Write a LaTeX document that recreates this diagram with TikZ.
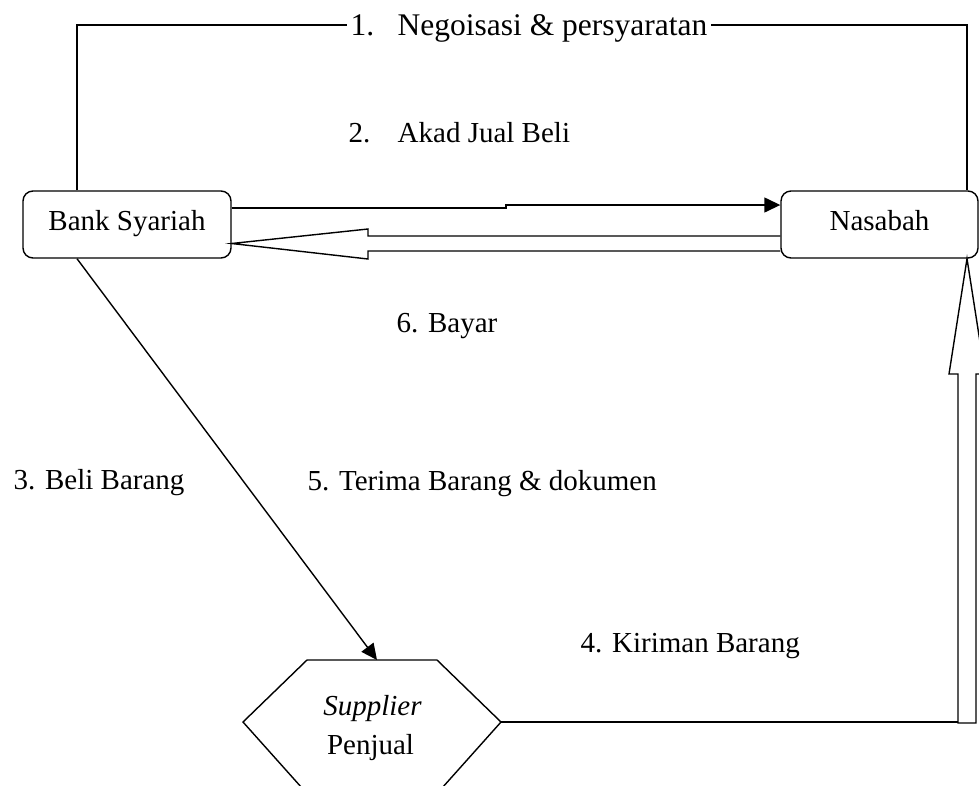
\documentclass[tikz,border=0pt]{standalone}
\usepackage{fontspec}
\setmainfont{Liberation Serif}
\usetikzlibrary{calc,arrows.meta}
\begin{document}
\begin{tikzpicture}[x=1pt,y=-1pt, line width=1.4pt,
  box/.style={draw, rounded corners=10pt, minimum width=208pt, minimum height=67pt, inner sep=0pt, text height=18pt, text depth=7pt, font=\fontsize{29}{35}\selectfont},
  lbl/.style={anchor=base west, inner sep=0pt, font=\fontsize{29}{35}\selectfont},
  tip/.style={-{Triangle[length=16pt,width=15pt]}}
]
\useasboundingbox (0,0) rectangle (979,785);
\clip (0,0) rectangle (979,785);
% boxes
\node[box] (bank) at (127,224.5) {Bank Syariah};
\node[box, minimum width=197pt] (nas) at (879.5,224.5) {Nasabah};
% corner coordinates
\coordinate (tl) at (77,25);
\coordinate (tr) at (967,25);
% label 1 and top connector
\node[lbl, font=\fontsize{31.5}{36}\selectfont] (l1) at (350,35) {\makebox[47pt][l]{1.}Negoisasi \& persyaratan};
\draw (bank.north -| tl) -- (tl) -- ([xshift=-3pt]l1.west |- tl);
\draw ([xshift=3pt]l1.east |- tr) -- (tr) -- (nas.north -| tr);
% label 2
\node[lbl] (l2) at (348,142) {\makebox[49pt][l]{2.}Akad Jual Beli};
% arrow bank -> nasabah
\draw[tip] (bank.east |- 0,208) -- (506,208) -- (506,205) -- (nas.west |- 0,205);
% hollow arrow nasabah -> bank
\draw (nas.west |- 0,236) -- (368,236) -- (368,229) -- (bank.east |- 0,243.5) -- (368,259) -- (368,251) -- (nas.west |- 0,251);
% supplier hexagon
\draw (307,660) -- (437,660) -- (501,722) -- (442,788) -- (302,788) -- (243,722) -- cycle;
\coordinate (hT) at (377,660);
\coordinate (sR) at (501,722);
\node[lbl, anchor=base] (sup) at (372.5,715) {\textit{Supplier}};
\node[lbl, anchor=base] (pen) at (370.5,754) {Penjual};
% bank -> supplier
\draw[tip] (bank.south -| tl) -- (hT);
% supplier -> nasabah (hollow up arrow)
\draw (sR) -- (958,722);
\draw (958,723) -- (958,374) -- (949,374) -- (nas.south -| tr) -- (985,374) -- (976,374) -- (976,723) -- cycle;
% labels
\node[lbl] (l6) at (396,332) {6. Bayar};
\node[lbl] (l3) at (13,489) {3. Beli Barang};
\node[lbl] (l5) at (307,490) {5. Terima Barang \& dokumen};
\node[lbl] (l4) at (580,652) {4. Kiriman Barang};
\end{tikzpicture}
\end{document}
